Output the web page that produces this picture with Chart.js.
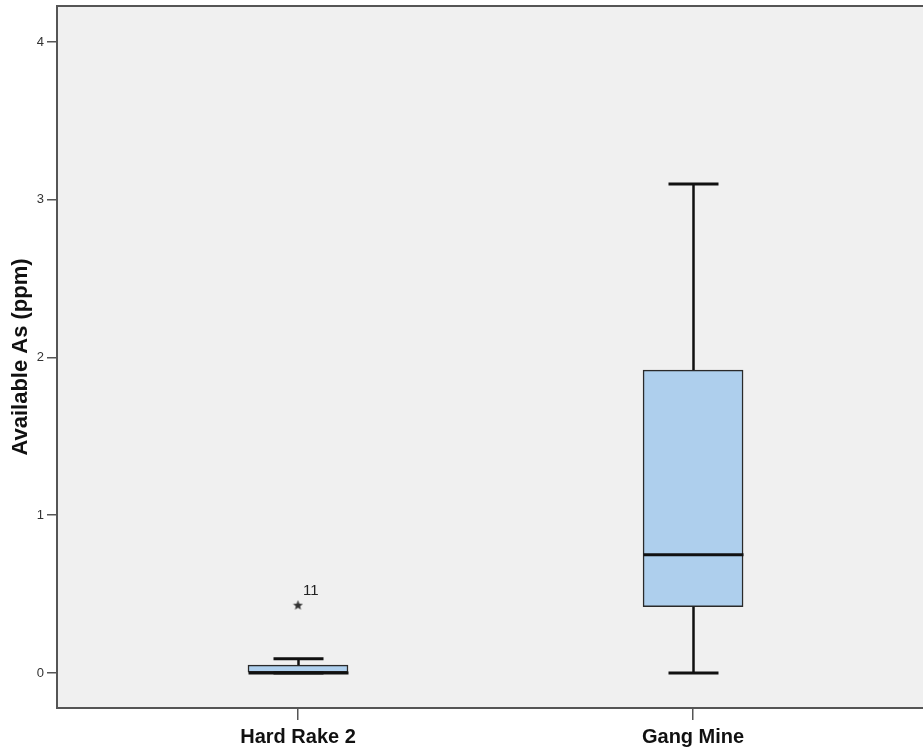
<!DOCTYPE html>
<html>
<head>
<meta charset="utf-8">
<script src="https://cdn.jsdelivr.net/npm/chart.js@4/dist/chart.umd.min.js"></script>
<style>
  html, body { margin: 0; padding: 0; background: #fff; }
  #wrap { width: 923px; height: 748px; position: relative; }
</style>
</head>
<body>
<div id="wrap"><canvas id="box"></canvas></div>
<script>
// Boxplot of available As per site (SPSS style)
const sites = ['Hard Rake 2', 'Gang Mine'];
const whiskerLow = [0, 0];
const q1 = [0, 0.42];
const median = [0, 0.75];
const q3 = [0.05, 1.92];
const whiskerHigh = [0.09, 3.1];
const outlierSite = [0];
const outlierValue = [0.43];
const outlierCase = ['11'];
const yTicks = [0, 1, 2, 3, 4];

const FONT = "'Liberation Sans', Arial, sans-serif";
const FRAME = '#555555';

// small filled star used as the outlier marker
const star = document.createElement('canvas');
star.width = 11;
star.height = 11;
(function () {
    const c = star.getContext('2d');
    c.fillStyle = '#333';
    c.beginPath();
    for (let i = 0; i < 10; i++) {
        const r = i % 2 === 0 ? 5.2 : 2.3;
        const a = -Math.PI / 2 + i * Math.PI / 5;
        const px = 5.5 + r * Math.cos(a);
        const py = 5.8 + r * Math.sin(a);
        if (i === 0) c.moveTo(px, py); else c.lineTo(px, py);
    }
    c.closePath();
    c.fill();
})();

const noPad = (s) => {
    s.paddingTop = 0;
    s.paddingBottom = 0;
    s.paddingLeft = 0;
    s.paddingRight = 0;
};

const plotBackground = {
    id: 'plotBackground',
    beforeDraw(chart) {
        const { ctx, chartArea: a } = chart;
        ctx.save();
        ctx.fillStyle = '#f0f0f0';
        ctx.fillRect(a.left, a.top, a.right - a.left, a.bottom - a.top);
        ctx.strokeStyle = FRAME;
        ctx.lineWidth = 2;
        ctx.beginPath();
        ctx.moveTo(a.left - 1, a.top);
        ctx.lineTo(a.right, a.top);
        ctx.stroke();
        ctx.restore();
    },
};

const boxParts = {
    id: 'boxParts',
    afterDatasetsDraw(chart) {
        const { ctx, scales: { x, y } } = chart;
        const boxW = 100;
        const capW = 50;
        ctx.save();
        ctx.strokeStyle = '#111';
        ctx.lineCap = 'butt';
        sites.forEach((_, i) => {
            const cx = Math.round(x.getPixelForValue(i)) + 0.5;
            const yLo = y.getPixelForValue(whiskerLow[i]);
            const yQ1 = y.getPixelForValue(q1[i]);
            const yQ3 = y.getPixelForValue(q3[i]);
            const yHi = y.getPixelForValue(whiskerHigh[i]);
            const yMed = y.getPixelForValue(median[i]);
            ctx.lineWidth = 2.5;
            ctx.beginPath();
            if (yLo - yQ1 > 1) { ctx.moveTo(cx, yLo); ctx.lineTo(cx, yQ1); }
            if (yQ3 - yHi > 1) { ctx.moveTo(cx, yQ3); ctx.lineTo(cx, yHi); }
            ctx.stroke();
            ctx.lineWidth = 3;
            ctx.beginPath();
            ctx.moveTo(cx - capW / 2, yLo);
            ctx.lineTo(cx + capW / 2, yLo);
            ctx.moveTo(cx - capW / 2, yHi);
            ctx.lineTo(cx + capW / 2, yHi);
            ctx.stroke();
            ctx.beginPath();
            ctx.moveTo(cx - boxW / 2, yMed);
            ctx.lineTo(cx + boxW / 2, yMed);
            ctx.stroke();
        });
        // case numbers beside outliers
        const meta = chart.getDatasetMeta(1);
        ctx.fillStyle = '#222';
        ctx.font = '15px ' + FONT;
        ctx.textBaseline = 'middle';
        meta.data.forEach((pt, i) => {
            ctx.fillText(outlierCase[i], pt.x + 5, pt.y - 14);
        });
        ctx.restore();
    },
};

new Chart(document.getElementById('box'), {
    data: {
        datasets: [
            {
                type: 'bar',
                data: sites.map((_, i) => ({ x: i, y: [q1[i], q3[i]] })),
                backgroundColor: '#aecfed',
                borderColor: '#2a2a2a',
                borderWidth: 1.5,
                borderSkipped: false,
                barThickness: 100,
            },
            {
                type: 'scatter',
                data: outlierSite.map((s, i) => ({ x: s, y: outlierValue[i] })),
                pointStyle: star,
                pointRadius: 5,
            },
        ],
    },
    options: {
        responsive: true,
        maintainAspectRatio: false,
        animation: false,
        layout: { autoPadding: false, padding: { top: 6, right: 0, left: 0, bottom: 0 } },
        plugins: {
            legend: { display: false },
            tooltip: { enabled: false },
        },
        scales: {
            x: {
                type: 'linear',
                offset: false,
                min: -0.61,
                max: 1.582,
                afterBuildTicks: (s) => { s.ticks = sites.map((_, i) => ({ value: i })); },
                afterFit: (s) => { s.height = 40; noPad(s); },
                border: { color: FRAME, width: 2 },
                grid: { offset: false, drawOnChartArea: false, drawTicks: true, tickLength: 12, color: FRAME, lineWidth: 1.5 },
                ticks: {
                    padding: 5,
                    color: '#111',
                    font: { family: FONT, size: 20, weight: 'bold' },
                    callback: (v) => sites[v] ?? '',
                    maxRotation: 0,
                    autoSkip: false,
                },
            },
            y: {
                min: -0.222,
                max: 4.228,
                afterBuildTicks: (s) => { s.ticks = yTicks.map((v) => ({ value: v })); },
                afterFit: (s) => { s.width = 57; noPad(s); },
                border: { color: FRAME, width: 2 },
                grid: { drawOnChartArea: false, drawTicks: true, tickLength: 10, color: FRAME, lineWidth: 1.5 },
                ticks: {
                    padding: 3,
                    color: '#333',
                    font: { family: FONT, size: 13 },
                },
                title: {
                    display: true,
                    text: 'Available As (ppm)',
                    color: '#111',
                    padding: { top: 8, bottom: 0 },
                    font: { family: FONT, size: 22, weight: 'bold' },
                },
            },
        },
    },
    plugins: [plotBackground, boxParts],
});
</script>
</body>
</html>
